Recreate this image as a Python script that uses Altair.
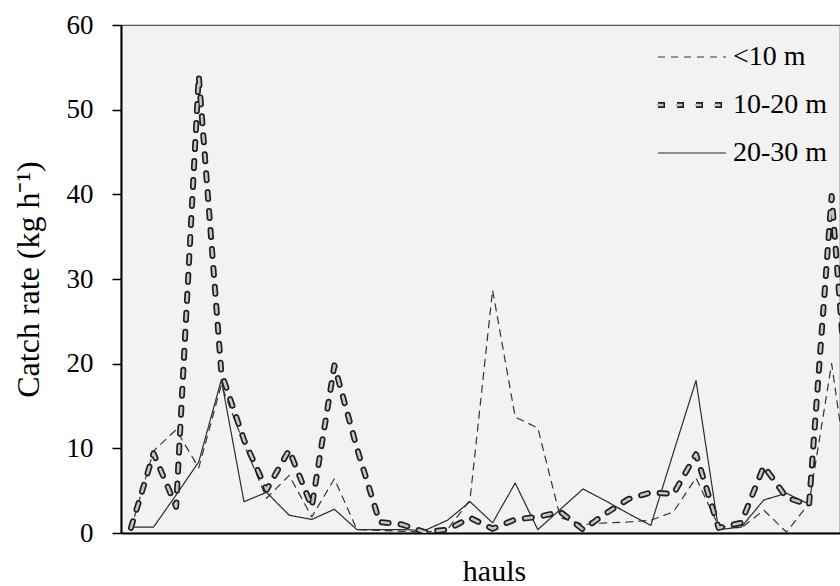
import altair as alt
import pandas as pd

series_names = ["<10 m", "10-20 m", "20-30 m"]

# catch rate per haul (kg h-1)
shallow = [0.5, 9.7, 12.2, 7.7, 17.5, 10.5, 4.1, 6.8, 1.9, 6.4, 0.4, 0.3, 0.2, 0.1, 0.4,
           3.9, 28.7, 13.7, 12.4, 1.8, 1.0, 1.2, 1.3, 1.5, 2.5, 6.5, 0.8, 0.6, 2.7, 0.1,
           3.5, 20.0, 1.2]
middle = [0.6, 9.4, 3.1, 54.0, 18.9, 11.0, 5.1, 9.8, 3.1, 19.8, 10.0, 1.3, 1.0, 0.1, 0.4,
          1.8, 0.5, 1.6, 1.9, 2.5, 0.4, 2.3, 4.0, 4.8, 4.6, 9.3, 0.6, 1.2, 7.9, 4.2,
          3.3, 39.8, 5.0]
deep = [0.7, 0.7, 4.5, 8.4, 18.1, 3.7, 4.8, 2.1, 1.6, 2.8, 0.4, 0.4, 0.4, 0.3, 1.5,
        3.7, 1.2, 5.9, 0.4, 2.8, 5.2, 3.8, 2.3, 0.9, 9.5, 18.0, 0.4, 0.7, 3.9, 4.7, 3.4]

y_ticks = [0, 10, 20, 30, 40, 50, 60]

rows = []
for name, vals in zip(series_names, [shallow, middle, deep]):
    for i, v in enumerate(vals):
        rows.append({"haul": i, "rate": v, "series": name})
df = pd.DataFrame(rows)

FONT = "Liberation Serif"

x_enc = alt.X(
    "haul:Q",
    scale=alt.Scale(domain=[-0.44, 31.37], nice=False, zero=False),
    axis=alt.Axis(
        title="hauls", labels=False, ticks=False, grid=False,
        domainColor="#000000", domainWidth=2,
        titleFont=FONT, titleFontSize=30, titleFontWeight="normal", titleColor="#000000",
        titleX=373, titleY=47, titleBaseline="alphabetic", titleAlign="center",
    ),
)
y_enc = alt.Y(
    "rate:Q",
    scale=alt.Scale(domain=[0, 60], nice=False),
    axis=alt.Axis(
        values=y_ticks, title="Catch rate (kg h⁻¹)", grid=False,
        tickSize=9, tickColor="#000000", tickWidth=1.5,
        domainColor="#000000", domainWidth=2,
        labelFont=FONT, labelFontSize=27, labelColor="#000000", labelPadding=19,
        titleFont=FONT, titleFontSize=32, titleFontWeight="normal", titleColor="#000000",
        titleAngle=270, titleX=-93, titleY=254, titleAlign="center", titleBaseline="middle",
    ),
)

legA = alt.Legend(
    title=None, orient="none", legendX=534, legendY=18,
    symbolType="stroke", symbolSize=4624, clipHeight=28, rowPadding=20,
    labelFont=FONT, labelFontSize=28, labelColor="#000000", labelOffset=4,
    padding=0,
)
legB = alt.Legend(
    title=None, orient="none", legendX=534, legendY=18,
    symbolType="stroke", symbolSize=4624, clipHeight=28, rowPadding=20,
    labelFont=FONT, labelFontSize=28, labelColor="#000000", labelOffset=4,
    labelExpr="''", padding=0,
)

outer = alt.Chart(df).mark_line(strokeCap="round", strokeJoin="round", clip=True).encode(
    x=x_enc, y=y_enc,
    color=alt.Color("series:N", sort=series_names,
                    scale=alt.Scale(type="ordinal", domain=series_names,
                                    range=["#333333", "#1e1e1e", "#2b2b2b"]),
                    legend=legA),
    strokeDash=alt.StrokeDash("series:N", sort=series_names,
                              scale=alt.Scale(type="ordinal", domain=series_names,
                                              range=[[7, 6], [7, 12], [1, 0]]),
                              legend=legA),
    strokeWidth=alt.StrokeWidth("series:N", sort=series_names,
                                scale=alt.Scale(type="ordinal", domain=series_names,
                                                range=[1.2, 6, 1.2]),
                                legend=legA),
)

inner = alt.Chart(df).transform_filter(
    alt.datum.series == "10-20 m"
).mark_line(strokeCap="round", strokeJoin="round", clip=True).encode(
    x=x_enc, y=y_enc,
    color=alt.Color("series:N", sort=series_names,
                    scale=alt.Scale(type="ordinal", domain=series_names,
                                    range=["rgba(0,0,0,0)", "#c6c6c6", "rgba(0,0,0,0)"]),
                    legend=legB),
    strokeDash=alt.StrokeDash("series:N", sort=series_names,
                              scale=alt.Scale(type="ordinal", domain=series_names,
                                              range=[[7, 12], [7, 12], [7, 12]]),
                              legend=legB),
    strokeWidth=alt.StrokeWidth("series:N", sort=series_names,
                                scale=alt.Scale(type="ordinal", domain=series_names,
                                                range=[1, 2.6, 1]),
                                legend=legB),
)

chart = alt.layer(outer, inner).resolve_scale(
    color="independent", strokeDash="independent", strokeWidth="independent"
).properties(
    width=719, height=508,
    autosize=alt.AutoSizeParams(type="none"),
    padding={"left": 121, "top": 25, "right": 0, "bottom": 53},
    background="#ffffff",
).configure_view(
    fill="#f2f2f2", stroke="#5a5a5a", strokeWidth=1.2
)

chart.save("out.html", embed_options={"renderer": "svg", "actions": False})
